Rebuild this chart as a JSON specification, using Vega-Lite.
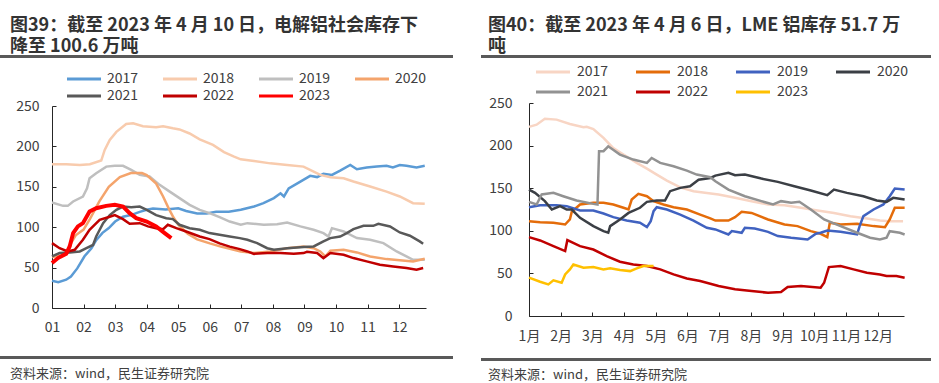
{
 "$schema": "https://vega.github.io/schema/vega-lite/v6.json",
 "padding": {"left": 0, "top": 17, "right": 0, "bottom": 0},
 "background": "white",
 "config": {
  "font": "Noto Sans CJK SC",
  "view": {"stroke": null},
  "axis": {"grid": false, "title": null, "domainColor": "#262626", "domainWidth": 1, "tickColor": "#262626", "labelColor": "#404040", "labelFontSize": 14, "labelFont": "Noto Sans CJK SC"},
  "title": {"font": "Noto Sans CJK SC", "fontSize": 18, "fontWeight": "bold", "color": "#333333", "anchor": "start", "lineHeight": 21}
 },
 "resolve": {"scale": {"color": "independent"}, "legend": {"color": "independent"}},
 "datasets": {
  "shfe": [
   {"y":"2017","m":1.0,"v":33.8},{"y":"2017","m":1.2,"v":32},{"y":"2017","m":1.45,"v":35},{"y":"2017","m":1.6,"v":39},{"y":"2017","m":1.8,"v":49},{"y":"2017","m":2.03,"v":64},{"y":"2017","m":2.25,"v":74},{"y":"2017","m":2.4,"v":84},{"y":"2017","m":2.6,"v":93},{"y":"2017","m":2.8,"v":99},{"y":"2017","m":3.0,"v":107},{"y":"2017","m":3.25,"v":113},{"y":"2017","m":3.5,"v":115},{"y":"2017","m":3.78,"v":119},{"y":"2017","m":4.0,"v":121.5},{"y":"2017","m":4.2,"v":123},{"y":"2017","m":4.6,"v":122},{"y":"2017","m":5.0,"v":123.5},{"y":"2017","m":5.25,"v":120},{"y":"2017","m":5.6,"v":117},{"y":"2017","m":5.9,"v":117},{"y":"2017","m":6.2,"v":119},{"y":"2017","m":6.6,"v":119},{"y":"2017","m":6.98,"v":121.5},{"y":"2017","m":7.4,"v":125.6},{"y":"2017","m":7.7,"v":129.7},{"y":"2017","m":8.03,"v":136},{"y":"2017","m":8.24,"v":142},{"y":"2017","m":8.35,"v":138},{"y":"2017","m":8.5,"v":148},{"y":"2017","m":8.87,"v":156.5},{"y":"2017","m":9.18,"v":163.5},{"y":"2017","m":9.4,"v":162},{"y":"2017","m":9.6,"v":166},{"y":"2017","m":9.87,"v":164.7},{"y":"2017","m":10.13,"v":170},{"y":"2017","m":10.45,"v":177},{"y":"2017","m":10.66,"v":171.7},{"y":"2017","m":10.97,"v":173.8},{"y":"2017","m":11.29,"v":175},{"y":"2017","m":11.6,"v":176},{"y":"2017","m":11.8,"v":174},{"y":"2017","m":12.02,"v":177},{"y":"2017","m":12.23,"v":176},{"y":"2017","m":12.55,"v":174},{"y":"2017","m":12.81,"v":176},
   {"y":"2018","m":1.0,"v":178},{"y":"2018","m":1.45,"v":178},{"y":"2018","m":1.88,"v":177},{"y":"2018","m":2.2,"v":178},{"y":"2018","m":2.56,"v":182.5},{"y":"2018","m":2.67,"v":195.6},{"y":"2018","m":2.83,"v":208},{"y":"2018","m":3.04,"v":218},{"y":"2018","m":3.35,"v":227.8},{"y":"2018","m":3.57,"v":228.6},{"y":"2018","m":3.88,"v":225},{"y":"2018","m":4.3,"v":223.6},{"y":"2018","m":4.52,"v":225},{"y":"2018","m":4.83,"v":222.4},{"y":"2018","m":5.04,"v":221},{"y":"2018","m":5.36,"v":216},{"y":"2018","m":5.68,"v":208.8},{"y":"2018","m":6.1,"v":201.8},{"y":"2018","m":6.45,"v":193},{"y":"2018","m":6.77,"v":187.4},{"y":"2018","m":6.98,"v":184},{"y":"2018","m":7.4,"v":182},{"y":"2018","m":7.92,"v":179},{"y":"2018","m":8.45,"v":177},{"y":"2018","m":8.97,"v":175},{"y":"2018","m":9.29,"v":168.9},{"y":"2018","m":9.5,"v":164.7},{"y":"2018","m":9.82,"v":161.9},{"y":"2018","m":10.24,"v":160.6},{"y":"2018","m":10.55,"v":156.5},{"y":"2018","m":11.08,"v":150.3},{"y":"2018","m":11.6,"v":144},{"y":"2018","m":12.02,"v":138},{"y":"2018","m":12.44,"v":129.7},{"y":"2018","m":12.81,"v":129},
   {"y":"2019","m":1.0,"v":130.6},{"y":"2019","m":1.35,"v":126.4},{"y":"2019","m":1.5,"v":126.4},{"y":"2019","m":1.67,"v":131.8},{"y":"2019","m":1.98,"v":138},{"y":"2019","m":2.11,"v":148},{"y":"2019","m":2.19,"v":160.6},{"y":"2019","m":2.4,"v":166.8},{"y":"2019","m":2.72,"v":175},{"y":"2019","m":2.99,"v":175.9},{"y":"2019","m":3.25,"v":175.9},{"y":"2019","m":3.51,"v":171},{"y":"2019","m":3.78,"v":164.7},{"y":"2019","m":4.09,"v":162.7},{"y":"2019","m":4.41,"v":152.4},{"y":"2019","m":4.73,"v":144},{"y":"2019","m":5.04,"v":136},{"y":"2019","m":5.36,"v":127.7},{"y":"2019","m":5.68,"v":121.5},{"y":"2019","m":5.99,"v":117.4},{"y":"2019","m":6.31,"v":112.4},{"y":"2019","m":6.63,"v":107},{"y":"2019","m":6.98,"v":103},{"y":"2019","m":7.19,"v":105},{"y":"2019","m":7.71,"v":103},{"y":"2019","m":8.13,"v":103.8},{"y":"2019","m":8.45,"v":105.8},{"y":"2019","m":8.87,"v":101},{"y":"2019","m":9.29,"v":96.8},{"y":"2019","m":9.6,"v":92.7},{"y":"2019","m":9.76,"v":88.5},{"y":"2019","m":9.87,"v":98.8},{"y":"2019","m":10.24,"v":94.7},{"y":"2019","m":10.66,"v":86.5},{"y":"2019","m":11.08,"v":84.4},{"y":"2019","m":11.5,"v":80.3},{"y":"2019","m":11.92,"v":70},{"y":"2019","m":12.23,"v":63.8},{"y":"2019","m":12.44,"v":59.7},{"y":"2019","m":12.81,"v":59.7},
   {"y":"2020","m":1.0,"v":63},{"y":"2020","m":1.3,"v":65},{"y":"2020","m":1.5,"v":68},{"y":"2020","m":1.6,"v":80},{"y":"2020","m":1.75,"v":90},{"y":"2020","m":2.0,"v":97},{"y":"2020","m":2.2,"v":110},{"y":"2020","m":2.5,"v":132},{"y":"2020","m":2.8,"v":150},{"y":"2020","m":3.15,"v":162},{"y":"2020","m":3.5,"v":167},{"y":"2020","m":3.85,"v":167},{"y":"2020","m":4.0,"v":164.5},{"y":"2020","m":4.3,"v":154},{"y":"2020","m":4.52,"v":138},{"y":"2020","m":4.7,"v":123},{"y":"2020","m":4.85,"v":112},{"y":"2020","m":5.0,"v":103},{"y":"2020","m":5.3,"v":92},{"y":"2020","m":5.6,"v":85},{"y":"2020","m":6.0,"v":80},{"y":"2020","m":6.35,"v":76},{"y":"2020","m":6.98,"v":70},{"y":"2020","m":7.4,"v":68},{"y":"2020","m":7.92,"v":70},{"y":"2020","m":8.45,"v":74},{"y":"2020","m":8.97,"v":76},{"y":"2020","m":9.29,"v":74},{"y":"2020","m":9.5,"v":70},{"y":"2020","m":9.66,"v":63.8},{"y":"2020","m":9.82,"v":71},{"y":"2020","m":10.24,"v":72},{"y":"2020","m":10.66,"v":68.8},{"y":"2020","m":11.08,"v":63.8},{"y":"2020","m":11.6,"v":60.5},{"y":"2020","m":12.02,"v":59},{"y":"2020","m":12.44,"v":57.7},{"y":"2020","m":12.81,"v":61},
   {"y":"2021","m":1.0,"v":63.8},{"y":"2021","m":1.24,"v":68},{"y":"2021","m":1.56,"v":68.8},{"y":"2021","m":1.88,"v":70},{"y":"2021","m":2.09,"v":74},{"y":"2021","m":2.3,"v":78},{"y":"2021","m":2.4,"v":88.5},{"y":"2021","m":2.62,"v":105},{"y":"2021","m":2.83,"v":115},{"y":"2021","m":3.04,"v":121.5},{"y":"2021","m":3.25,"v":125.6},{"y":"2021","m":3.51,"v":124.8},{"y":"2021","m":3.78,"v":125.6},{"y":"2021","m":4.0,"v":121.5},{"y":"2021","m":4.3,"v":115},{"y":"2021","m":4.62,"v":111},{"y":"2021","m":4.83,"v":110},{"y":"2021","m":5.04,"v":103},{"y":"2021","m":5.36,"v":98.8},{"y":"2021","m":5.68,"v":96.8},{"y":"2021","m":5.99,"v":92.7},{"y":"2021","m":6.31,"v":90.6},{"y":"2021","m":6.63,"v":88.5},{"y":"2021","m":6.95,"v":86.5},{"y":"2021","m":7.19,"v":84.4},{"y":"2021","m":7.5,"v":80.3},{"y":"2021","m":7.82,"v":74},{"y":"2021","m":8.03,"v":72},{"y":"2021","m":8.45,"v":74},{"y":"2021","m":8.97,"v":75.4},{"y":"2021","m":9.29,"v":76.2},{"y":"2021","m":9.6,"v":82.4},{"y":"2021","m":9.82,"v":86.5},{"y":"2021","m":10.13,"v":88.5},{"y":"2021","m":10.34,"v":92.7},{"y":"2021","m":10.55,"v":97.6},{"y":"2021","m":10.87,"v":101.7},{"y":"2021","m":11.18,"v":101.7},{"y":"2021","m":11.34,"v":104.2},{"y":"2021","m":11.71,"v":100.9},{"y":"2021","m":12.02,"v":93.5},{"y":"2021","m":12.34,"v":89.4},{"y":"2021","m":12.65,"v":82.4},{"y":"2021","m":12.76,"v":79.5},
   {"y":"2022","m":1.0,"v":80.3},{"y":"2022","m":1.24,"v":74},{"y":"2022","m":1.5,"v":70},{"y":"2022","m":1.72,"v":72},{"y":"2022","m":1.98,"v":84.4},{"y":"2022","m":2.19,"v":96.8},{"y":"2022","m":2.51,"v":109},{"y":"2022","m":2.83,"v":113},{"y":"2022","m":2.99,"v":115},{"y":"2022","m":3.25,"v":110},{"y":"2022","m":3.46,"v":104.2},{"y":"2022","m":3.78,"v":105},{"y":"2022","m":4.04,"v":101},{"y":"2022","m":4.3,"v":98.8},{"y":"2022","m":4.52,"v":97.6},{"y":"2022","m":4.67,"v":103},{"y":"2022","m":4.94,"v":98.8},{"y":"2022","m":5.25,"v":94.7},{"y":"2022","m":5.68,"v":88.5},{"y":"2022","m":5.99,"v":85.3},{"y":"2022","m":6.31,"v":80},{"y":"2022","m":6.63,"v":76},{"y":"2022","m":6.95,"v":72.9},{"y":"2022","m":7.19,"v":70},{"y":"2022","m":7.4,"v":67},{"y":"2022","m":7.82,"v":68},{"y":"2022","m":8.24,"v":68},{"y":"2022","m":8.66,"v":67},{"y":"2022","m":8.97,"v":68},{"y":"2022","m":9.08,"v":69.6},{"y":"2022","m":9.4,"v":68},{"y":"2022","m":9.6,"v":61.8},{"y":"2022","m":9.82,"v":68},{"y":"2022","m":10.24,"v":65.9},{"y":"2022","m":10.55,"v":61.8},{"y":"2022","m":10.97,"v":57.7},{"y":"2022","m":11.39,"v":53.5},{"y":"2022","m":11.81,"v":51.5},{"y":"2022","m":12.23,"v":49.4},{"y":"2022","m":12.55,"v":47.4},{"y":"2022","m":12.76,"v":49.4},
   {"y":"2023","m":1.0,"v":55.6},{"y":"2023","m":1.19,"v":61.8},{"y":"2023","m":1.45,"v":67},{"y":"2023","m":1.56,"v":76.2},{"y":"2023","m":1.67,"v":92.7},{"y":"2023","m":1.82,"v":101},{"y":"2023","m":1.98,"v":105},{"y":"2023","m":2.19,"v":119.4},{"y":"2023","m":2.4,"v":123.5},{"y":"2023","m":2.72,"v":126.4},{"y":"2023","m":2.99,"v":127.7},{"y":"2023","m":3.25,"v":125.6},{"y":"2023","m":3.46,"v":117.4},{"y":"2023","m":3.67,"v":111.2},{"y":"2023","m":4.0,"v":107},{"y":"2023","m":4.3,"v":101},{"y":"2023","m":4.57,"v":92.7},{"y":"2023","m":4.78,"v":86.5}
  ],
  "lme": [
   {"y":"2017","m":1.0,"v":222},{"y":"2017","m":1.24,"v":224.6},{"y":"2017","m":1.5,"v":231.6},{"y":"2017","m":1.87,"v":230.5},{"y":"2017","m":2.29,"v":225.4},{"y":"2017","m":2.72,"v":221.5},{"y":"2017","m":2.82,"v":222},{"y":"2017","m":3.03,"v":219.5},{"y":"2017","m":3.35,"v":209},{"y":"2017","m":3.66,"v":197},{"y":"2017","m":3.98,"v":189.5},{"y":"2017","m":4.4,"v":179.7},{"y":"2017","m":4.72,"v":173},{"y":"2017","m":5.03,"v":166},{"y":"2017","m":5.35,"v":159},{"y":"2017","m":5.77,"v":151},{"y":"2017","m":6.19,"v":146.5},{"y":"2017","m":6.61,"v":144.5},{"y":"2017","m":6.98,"v":142.6},{"y":"2017","m":7.5,"v":138.7},{"y":"2017","m":8.02,"v":134.8},{"y":"2017","m":8.54,"v":130.9},{"y":"2017","m":9.06,"v":130},{"y":"2017","m":9.58,"v":127},{"y":"2017","m":10.1,"v":123.8},{"y":"2017","m":10.62,"v":121},{"y":"2017","m":11.14,"v":117},{"y":"2017","m":11.66,"v":114.5},{"y":"2017","m":12.07,"v":112},{"y":"2017","m":12.38,"v":111.3},{"y":"2017","m":12.8,"v":111.3},
   {"y":"2018","m":1.0,"v":111.3},{"y":"2018","m":1.35,"v":110},{"y":"2018","m":1.77,"v":109.4},{"y":"2018","m":2.14,"v":107.4},{"y":"2018","m":2.29,"v":113.3},{"y":"2018","m":2.35,"v":122.3},{"y":"2018","m":2.61,"v":130.9},{"y":"2018","m":3.03,"v":132.8},{"y":"2018","m":3.35,"v":132.8},{"y":"2018","m":3.66,"v":130.9},{"y":"2018","m":3.98,"v":127},{"y":"2018","m":4.14,"v":125},{"y":"2018","m":4.24,"v":136.7},{"y":"2018","m":4.45,"v":143.4},{"y":"2018","m":4.72,"v":140.6},{"y":"2018","m":4.93,"v":134.8},{"y":"2018","m":5.24,"v":130.9},{"y":"2018","m":5.56,"v":127.7},{"y":"2018","m":5.98,"v":125},{"y":"2018","m":6.4,"v":119},{"y":"2018","m":6.72,"v":114.5},{"y":"2018","m":6.88,"v":112},{"y":"2018","m":7.29,"v":112},{"y":"2018","m":7.5,"v":116},{"y":"2018","m":7.71,"v":122.3},{"y":"2018","m":8.02,"v":121},{"y":"2018","m":8.54,"v":113.3},{"y":"2018","m":9.06,"v":107.4},{"y":"2018","m":9.47,"v":105.5},{"y":"2018","m":9.89,"v":99.6},{"y":"2018","m":10.2,"v":96.5},{"y":"2018","m":10.41,"v":92.6},{"y":"2018","m":10.49,"v":109.4},{"y":"2018","m":10.83,"v":107.4},{"y":"2018","m":11.35,"v":108.2},{"y":"2018","m":11.87,"v":105.5},{"y":"2018","m":12.23,"v":104.3},{"y":"2018","m":12.38,"v":113.3},{"y":"2018","m":12.54,"v":127},{"y":"2018","m":12.85,"v":127},
   {"y":"2019","m":1.0,"v":127.7},{"y":"2019","m":1.35,"v":130},{"y":"2019","m":1.87,"v":130},{"y":"2019","m":2.19,"v":128.9},{"y":"2019","m":2.61,"v":123.8},{"y":"2019","m":3.03,"v":123.8},{"y":"2019","m":3.35,"v":120.3},{"y":"2019","m":3.66,"v":116},{"y":"2019","m":4.08,"v":112},{"y":"2019","m":4.5,"v":109.4},{"y":"2019","m":4.72,"v":104.3},{"y":"2019","m":4.84,"v":111.3},{"y":"2019","m":4.93,"v":123},{"y":"2019","m":5.03,"v":127.7},{"y":"2019","m":5.35,"v":125},{"y":"2019","m":5.77,"v":119},{"y":"2019","m":6.19,"v":112},{"y":"2019","m":6.61,"v":103.5},{"y":"2019","m":6.88,"v":101.6},{"y":"2019","m":7.29,"v":95.7},{"y":"2019","m":7.4,"v":99.6},{"y":"2019","m":7.71,"v":97.7},{"y":"2019","m":7.81,"v":103.5},{"y":"2019","m":8.12,"v":102.7},{"y":"2019","m":8.54,"v":98.8},{"y":"2019","m":8.85,"v":93.8},{"y":"2019","m":9.27,"v":91.8},{"y":"2019","m":9.79,"v":89.8},{"y":"2019","m":10.05,"v":96.5},{"y":"2019","m":10.2,"v":97.7},{"y":"2019","m":10.41,"v":100.4},{"y":"2019","m":10.83,"v":98.8},{"y":"2019","m":11.35,"v":95.7},{"y":"2019","m":11.43,"v":105.5},{"y":"2019","m":11.55,"v":117.2},{"y":"2019","m":11.87,"v":125},{"y":"2019","m":12.18,"v":130.9},{"y":"2019","m":12.38,"v":140.6},{"y":"2019","m":12.54,"v":149.6},{"y":"2019","m":12.85,"v":148.4},
   {"y":"2020","m":1.0,"v":148.4},{"y":"2020","m":1.19,"v":144.5},{"y":"2020","m":1.5,"v":134.8},{"y":"2020","m":1.72,"v":125},{"y":"2020","m":1.98,"v":128.9},{"y":"2020","m":2.19,"v":125},{"y":"2020","m":2.35,"v":125},{"y":"2020","m":2.61,"v":115.2},{"y":"2020","m":3.03,"v":105.5},{"y":"2020","m":3.35,"v":99.6},{"y":"2020","m":3.5,"v":97.7},{"y":"2020","m":3.56,"v":105.5},{"y":"2020","m":3.87,"v":113.3},{"y":"2020","m":4.14,"v":121},{"y":"2020","m":4.5,"v":127},{"y":"2020","m":4.72,"v":134},{"y":"2020","m":5.03,"v":135.5},{"y":"2020","m":5.29,"v":135.5},{"y":"2020","m":5.45,"v":146.5},{"y":"2020","m":5.77,"v":150.4},{"y":"2020","m":6.08,"v":152.3},{"y":"2020","m":6.35,"v":160},{"y":"2020","m":6.72,"v":162},{"y":"2020","m":6.88,"v":164.8},{"y":"2020","m":7.29,"v":168},{"y":"2020","m":7.5,"v":165.2},{"y":"2020","m":7.81,"v":166},{"y":"2020","m":8.33,"v":161.3},{"y":"2020","m":8.85,"v":157.4},{"y":"2020","m":9.37,"v":152.3},{"y":"2020","m":9.89,"v":147.3},{"y":"2020","m":10.41,"v":141.8},{"y":"2020","m":10.62,"v":148.4},{"y":"2020","m":11.03,"v":144.5},{"y":"2020","m":11.55,"v":140.6},{"y":"2020","m":11.97,"v":135.5},{"y":"2020","m":12.28,"v":134},{"y":"2020","m":12.49,"v":138.7},{"y":"2020","m":12.85,"v":136.7},
   {"y":"2021","m":1.0,"v":134},{"y":"2021","m":1.24,"v":130.9},{"y":"2021","m":1.4,"v":142.6},{"y":"2021","m":1.77,"v":144.5},{"y":"2021","m":2.08,"v":140.6},{"y":"2021","m":2.5,"v":135.5},{"y":"2021","m":3.03,"v":131.6},{"y":"2021","m":3.16,"v":130.9},{"y":"2021","m":3.21,"v":193.4},{"y":"2021","m":3.35,"v":193.4},{"y":"2021","m":3.5,"v":199.2},{"y":"2021","m":3.87,"v":189.5},{"y":"2021","m":4.29,"v":183.6},{"y":"2021","m":4.72,"v":179.7},{"y":"2021","m":4.87,"v":185.5},{"y":"2021","m":5.14,"v":179.7},{"y":"2021","m":5.56,"v":175.8},{"y":"2021","m":5.98,"v":170.7},{"y":"2021","m":6.29,"v":166},{"y":"2021","m":6.72,"v":162.9},{"y":"2021","m":6.88,"v":158.2},{"y":"2021","m":7.29,"v":148.4},{"y":"2021","m":7.81,"v":140.6},{"y":"2021","m":8.33,"v":134.8},{"y":"2021","m":8.7,"v":130.9},{"y":"2021","m":8.95,"v":134.8},{"y":"2021","m":9.27,"v":132.8},{"y":"2021","m":9.53,"v":134},{"y":"2021","m":9.89,"v":125},{"y":"2021","m":10.31,"v":113.3},{"y":"2021","m":10.83,"v":105.5},{"y":"2021","m":11.35,"v":97.7},{"y":"2021","m":11.76,"v":91.8},{"y":"2021","m":12.07,"v":89.8},{"y":"2021","m":12.28,"v":91.8},{"y":"2021","m":12.38,"v":99.6},{"y":"2021","m":12.7,"v":97.7},{"y":"2021","m":12.85,"v":95.7},
   {"y":"2022","m":1.0,"v":92.6},{"y":"2022","m":1.35,"v":88.7},{"y":"2022","m":1.77,"v":82},{"y":"2022","m":2.14,"v":76.2},{"y":"2022","m":2.21,"v":89},{"y":"2022","m":2.61,"v":82},{"y":"2022","m":3.03,"v":78},{"y":"2022","m":3.45,"v":70.3},{"y":"2022","m":3.87,"v":63.7},{"y":"2022","m":4.29,"v":60.5},{"y":"2022","m":4.72,"v":58.6},{"y":"2022","m":5.14,"v":54.7},{"y":"2022","m":5.56,"v":48.8},{"y":"2022","m":5.98,"v":44.1},{"y":"2022","m":6.4,"v":41},{"y":"2022","m":6.72,"v":37.9},{"y":"2022","m":6.98,"v":35.2},{"y":"2022","m":7.5,"v":31.3},{"y":"2022","m":8.02,"v":29.3},{"y":"2022","m":8.54,"v":27.3},{"y":"2022","m":8.95,"v":28.1},{"y":"2022","m":9.16,"v":34},{"y":"2022","m":9.58,"v":35.2},{"y":"2022","m":10.2,"v":33.2},{"y":"2022","m":10.31,"v":39},{"y":"2022","m":10.46,"v":57.4},{"y":"2022","m":10.83,"v":58.6},{"y":"2022","m":11.24,"v":54.7},{"y":"2022","m":11.66,"v":50.8},{"y":"2022","m":12.07,"v":48.8},{"y":"2022","m":12.28,"v":46.9},{"y":"2022","m":12.59,"v":46.9},{"y":"2022","m":12.85,"v":44.9},
   {"y":"2023","m":1.0,"v":45},{"y":"2023","m":1.35,"v":40.2},{"y":"2023","m":1.61,"v":37.1},{"y":"2023","m":1.77,"v":41.8},{"y":"2023","m":2.03,"v":39},{"y":"2023","m":2.14,"v":48.8},{"y":"2023","m":2.29,"v":54.7},{"y":"2023","m":2.4,"v":60.5},{"y":"2023","m":2.72,"v":56.6},{"y":"2023","m":3.03,"v":57.4},{"y":"2023","m":3.35,"v":54.7},{"y":"2023","m":3.56,"v":55.9},{"y":"2023","m":3.87,"v":53.9},{"y":"2023","m":4.19,"v":52.7},{"y":"2023","m":4.4,"v":55.9},{"y":"2023","m":4.61,"v":58.6},{"y":"2023","m":4.93,"v":58.6}
  ]
 },
 "hconcat": [
  {
   "vconcat": [
    {
     "width": 453, "height": 3,
     "data": {"values": [{}]},
     "mark": {"type": "rect", "color": "#595959"},
     "encoding": {},
     "title": {"text": ["图39：截至 2023 年 4 月 10 日，电解铝社会库存下", "降至 100.6 万吨"], "dx": 10, "offset": -1}
    },
    {
     "vconcat": [
      {
       "width": 426, "height": 202,
       "data": {"name": "shfe"},
       "mark": {"type": "line", "clip": false},
       "encoding": {
        "x": {"field": "m", "type": "quantitative", "scale": {"domain": [1, 12.85], "range": [52, 426], "nice": false, "zero": false},
              "axis": {"values": [1,2,3,4,5,6,7,8,9,10,11,12], "format": "02d", "tickSize": -4, "labelPadding": 16, "labelFlush": false}},
        "y": {"field": "v", "type": "quantitative", "scale": {"domain": [0, 250], "nice": false},
              "axis": {"values": [0,50,100,150,200,250], "tickSize": -4, "labelPadding": 17, "offset": -52}},
        "color": {"field": "y", "type": "nominal",
                  "scale": {"domain": ["2017","2018","2019","2020","2021","2022","2023"], "range": ["#5B9BD5","#F8CBAD","#BFBFBF","#F4A46C","#595959","#C00000","#FF0000"]},
                  "legend": {"orient": "none", "legendX": 77, "legendY": 17, "direction": "horizontal", "columns": 4, "title": null,
                             "symbolType": "M-3.4,0H3.4", "symbolSize": 100, "symbolStrokeWidth": 3, "symbolFillColor": "transparent", "labelFontSize": 14, "labelColor": "#404040",
                             "columnPadding": 18, "rowPadding": 3, "padding": 0, "labelOffset": 16}},
        "strokeWidth": {"condition": {"test": "datum.y === '2023'", "value": 4}, "value": 2.5}
       }
      },
      {
       "width": 453, "height": 3,
       "data": {"values": [{}]},
       "mark": {"type": "rect", "color": "#595959"},
       "encoding": {},
       "title": {"text": "资料来源：wind，民生证券研究院", "orient": "bottom", "dx": 10, "offset": 9, "fontSize": 13, "fontWeight": "normal", "color": "#404040"}
      }
     ],
     "spacing": 22
    }
   ],
   "spacing": 41
  },
  {
   "vconcat": [
    {
     "width": 450, "height": 3,
     "data": {"values": [{}]},
     "mark": {"type": "rect", "color": "#595959"},
     "encoding": {},
     "title": {"text": ["图40：截至 2023 年 4 月 6 日，LME 铝库存 51.7 万", "吨"], "dx": 7, "offset": -1}
    },
    {
     "vconcat": [
      {
       "width": 423, "height": 213,
       "data": {"name": "lme"},
       "mark": {"type": "line", "clip": false, "strokeWidth": 2.5},
       "encoding": {
        "x": {"field": "m", "type": "quantitative", "scale": {"domain": [1, 12.83], "range": [48, 423], "nice": false, "zero": false},
              "axis": {"values": [1,2,3,4,5,6,7,8,9,10,11,12], "labelExpr": "datum.value + '月'", "tickSize": -4, "labelPadding": 17, "labelFlush": false}},
        "y": {"field": "v", "type": "quantitative", "scale": {"domain": [0, 250], "nice": false},
              "axis": {"values": [0,50,100,150,200,250], "tickSize": -4, "labelPadding": 21, "offset": -48}},
        "color": {"field": "y", "type": "nominal",
                  "scale": {"domain": ["2017","2018","2019","2020","2021","2022","2023"], "range": ["#F8D5C4","#E46C0A","#4062C0","#3B3F45","#929292","#C00000","#FFC000"]},
                  "legend": {"orient": "none", "legendX": 65, "legendY": 10, "direction": "horizontal", "columns": 4, "title": null,
                             "symbolType": "M-3.4,0H3.4", "symbolSize": 100, "symbolStrokeWidth": 3, "symbolFillColor": "transparent", "labelFontSize": 14, "labelColor": "#404040",
                             "columnPadding": 21, "rowPadding": 6, "padding": 0, "labelOffset": 17}}
       }
      },
      {
       "width": 450, "height": 3,
       "data": {"values": [{}]},
       "mark": {"type": "rect", "color": "#595959"},
       "encoding": {},
       "title": {"text": "资料来源：wind，民生证券研究院", "orient": "bottom", "dx": 7, "offset": 8, "fontSize": 13, "fontWeight": "normal", "color": "#404040"}
      }
     ],
     "spacing": 15
    }
   ],
   "spacing": 38
  }
 ],
 "spacing": 28
}
